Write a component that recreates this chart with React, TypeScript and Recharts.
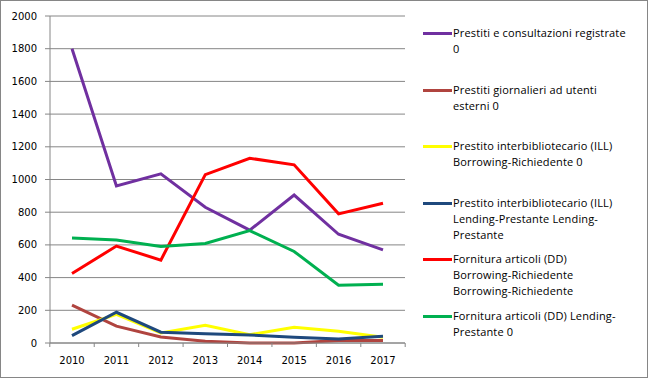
import React from 'react';
import { LineChart, Line, XAxis, YAxis, CartesianGrid } from 'recharts';

const years = ['2010', '2011', '2012', '2013', '2014', '2015', '2016', '2017'];

const prestitiConsultazioni = [1800, 960, 1035, 830, 690, 905, 665, 570];
const prestitiGiornalieri = [232, 103, 37, 10, 0, 0, 16, 16];
const illBorrowing = [84, 175, 62, 109, 51, 96, 72, 35];
const illLending = [45, 188, 66, 57, 49, 35, 25, 41];
const ddBorrowing = [425, 593, 507, 1030, 1130, 1090, 790, 855];
const ddLending = [642, 630, 591, 609, 687, 560, 353, 359];

const yTicks = [0, 200, 400, 600, 800, 1000, 1200, 1400, 1600, 1800, 2000];

const seriesNames = [
    'Prestiti e consultazioni registrate 0',
    'Prestiti giornalieri ad utenti esterni 0',
    'Prestito interbibliotecario (ILL) Borrowing-Richiedente 0',
    'Prestito interbibliotecario (ILL) Lending-Prestante Lending-Prestante',
    'Fornitura articoli (DD) Borrowing-Richiedente Borrowing-Richiedente',
    'Fornitura articoli (DD) Lending-Prestante 0',
];

// legend text wrapped the way the original wraps it
const legendLines = [
    ['Prestiti e consultazioni registrate', '0'],
    ['Prestiti giornalieri ad utenti', 'esterni 0'],
    ['Prestito interbibliotecario (ILL)', 'Borrowing-Richiedente 0'],
    ['Prestito interbibliotecario (ILL)', 'Lending-Prestante Lending-', 'Prestante'],
    ['Fornitura articoli (DD)', 'Borrowing-Richiedente', 'Borrowing-Richiedente'],
    ['Fornitura articoli (DD) Lending-', 'Prestante 0'],
];

const seriesColors = ['#7030A0', '#B0443F', '#FFFF00', '#1F497D', '#FF0000', '#00B050'];
const seriesKeys = ['s0', 's1', 's2', 's3', 's4', 's5'];
const seriesValues = [prestitiConsultazioni, prestitiGiornalieri, illBorrowing, illLending, ddBorrowing, ddLending];

const data = years.map((year, i) => {
    const row: Record<string, string | number> = { year };
    seriesKeys.forEach((k, j) => { row[k] = seriesValues[j][i]; });
    return row;
});

const GRID = '#868686';
const FONT = '"DejaVu Sans", sans-serif';
const HALF_STEP = 22.2;

const XTick = (props: any) => {
    const { x, y, payload, index } = props;
    const last = index === years.length - 1;
    return (
        <g>
            <line x1={x - HALF_STEP} y1={y} x2={x - HALF_STEP} y2={y + 4} stroke={GRID} />
            {last && <line x1={x + HALF_STEP} y1={y} x2={x + HALF_STEP} y2={y + 4} stroke={GRID} />}
            <text x={x} y={y + 21} textAnchor="middle" fontSize={10} fontFamily={FONT} fill="#000">
                {payload.value}
            </text>
        </g>
    );
};

const ChartLegend = () => (
    <div style={{ position: 'absolute', left: 422, top: 24, width: 224, fontFamily: '"Open Sans", sans-serif', fontSize: 11, letterSpacing: 0.15, color: '#000' }}>
        {legendLines.map((lines, i) => (
            <div key={seriesNames[i]} style={{ position: 'relative', height: 56.6 }}>
                <div style={{ position: 'absolute', left: 0, top: 7, width: 29, height: 3, background: seriesColors[i] }} />
                <div style={{ position: 'absolute', left: 30, top: 0, lineHeight: '16px', whiteSpace: 'nowrap' }}>
                    {lines.map((l) => <div key={l}>{l}</div>)}
                </div>
            </div>
        ))}
    </div>
);

export default function App() {
    return (
        <div style={{ position: 'absolute', left: 0, top: 0, width: 648, height: 378, boxSizing: 'border-box', border: `1px solid ${GRID}`, background: '#fff' }}>
            <LineChart width={646} height={376} data={data} margin={{ top: 15, right: 242, bottom: 0, left: 0 }}>
                <CartesianGrid vertical={false} stroke={GRID} strokeWidth={1} />
                <XAxis
                    dataKey="year"
                    padding={{ left: 22, right: 22 }}
                    tickSize={0}
                    tickMargin={0}
                    tick={<XTick />}
                    axisLine={{ stroke: GRID }}
                    height={34}
                    interval={0}
                />
                <YAxis
                    domain={[0, 2000]}
                    ticks={yTicks}
                    width={49}
                    tickSize={5}
                    tickMargin={8}
                    axisLine={{ stroke: GRID }}
                    tickLine={{ stroke: GRID }}
                    tick={{ fontSize: 10, fontFamily: FONT, fill: '#000' }}
                    interval={0}
                />
                {seriesKeys.map((k, i) => (
                    <Line
                        key={k}
                        dataKey={k}
                        name={seriesNames[i]}
                        stroke={seriesColors[i]}
                        strokeWidth={3}
                        dot={false}
                        type="linear"
                        isAnimationActive={false}
                    />
                ))}
            </LineChart>
            <ChartLegend />
        </div>
    );
}
